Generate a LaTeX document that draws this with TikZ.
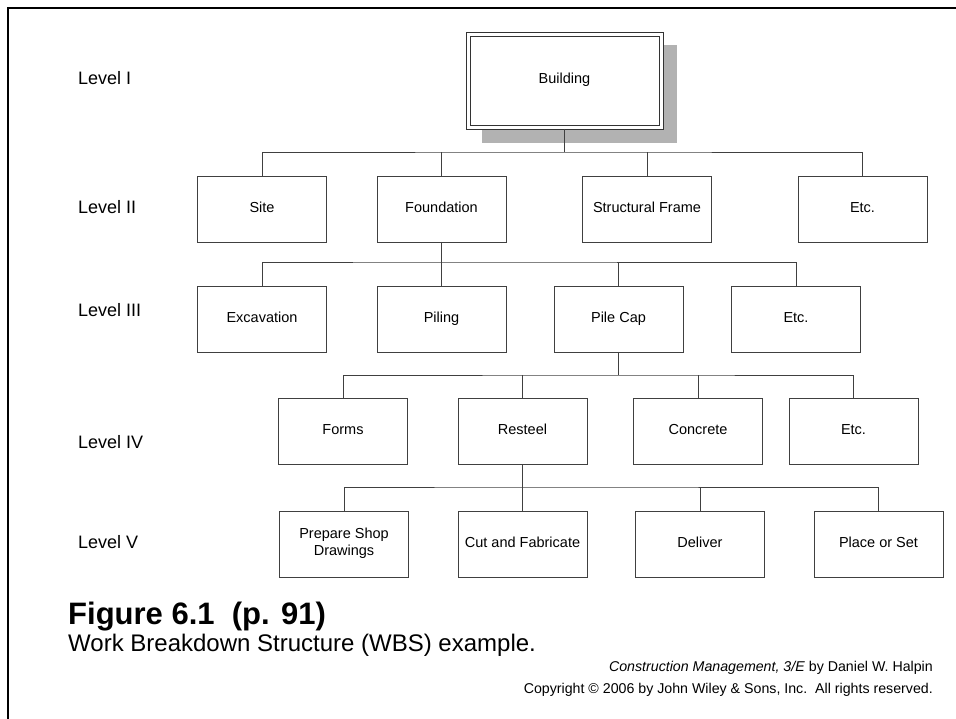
\documentclass[tikz,border=0pt]{standalone}
\usepackage{fontspec}
\setmainfont{Liberation Sans}
\begin{document}
\begin{tikzpicture}[x=1pt,y=-1pt,
  wbs/.style={draw=black!75, line width=0.9pt, fill=white, minimum width=129pt, minimum height=66pt,
    inner sep=0pt, outer sep=0pt, align=center, font=\fontsize{14.5}{17}\selectfont,
    execute at begin node=\strut},
  conn/.style={draw=black!75, line width=0.9pt},
  lvl/.style={anchor=west, inner sep=0pt, font=\fontsize{18}{21}\selectfont}]
\useasboundingbox (0,0) rectangle (956,719);
% frame
\draw[line width=2.6pt] (956,8) -- (8,8) -- (8,719);
% level labels
\node[lvl] (l1) at (78,78) {Level I};
\node[lvl] (l2) at (78,207) {Level II};
\node[lvl] (l3) at (78,310) {Level III};
\node[lvl] (l4) at (78,442) {Level IV};
\node[lvl] (l5) at (78,542) {Level V};
% building
\fill[black!30] (482,45) rectangle (677,143);
\node[draw=black!80, line width=0.9pt, fill=white, minimum width=197pt, minimum height=97pt,
  inner sep=0pt, outer sep=0pt, font=\fontsize{14.5}{17}\selectfont,
  execute at begin node=\strut] (bld) at (564.5,80.5) {Building};
\draw[black!80, line width=0.9pt] ([shift={(4,-4)}]bld.south west) rectangle ([shift={(-4,4)}]bld.north east);
% level II
\node[wbs] (site) at (262,209) {Site};
\node[wbs] (found) at (441.5,209) {Foundation};
\node[wbs] (frame) at (647,209) {Structural Frame};
\node[wbs] (etc2) at (862.5,209) {Etc.};
\coordinate (b2) at (564.5,152);
\draw[conn] (bld.south) -- (b2);
\draw[conn] (site.north) |- (b2) -| (etc2.north);
\draw[conn] (found.north) -- (found.north |- b2);
\draw[conn] (frame.north) -- (frame.north |- b2);
% level III
\node[wbs] (exc) at (262,319) {Excavation};
\node[wbs] (pil) at (441.5,319) {Piling};
\node[wbs] (cap) at (618.5,319) {Pile Cap};
\node[wbs] (etc3) at (796,319) {Etc.};
\coordinate (b3) at (441.5,262);
\draw[conn] (found.south) -- (b3);
\draw[conn] (exc.north) |- (b3) -| (etc3.north);
\draw[conn] (pil.north) -- (b3);
\draw[conn] (cap.north) -- (cap.north |- b3);
% level IV
\node[wbs] (forms) at (343,431) {Forms};
\node[wbs] (rest) at (522.5,431) {Resteel};
\node[wbs] (conc) at (698,431) {Concrete};
\node[wbs] (etc4) at (853.5,431) {Etc.};
\coordinate (b4) at (618.5,375);
\draw[conn] (cap.south) -- (b4);
\draw[conn] (forms.north) |- (b4) -| (etc4.north);
\draw[conn] (rest.north) -- (rest.north |- b4);
\draw[conn] (conc.north) -- (conc.north |- b4);
% level V
\node[wbs] (prep) at (344,544) {Prepare Shop\\Drawings};
\node[wbs] (cut) at (522.5,544) {Cut and Fabricate};
\node[wbs] (del) at (700,544) {Deliver};
\node[wbs] (place) at (878.5,544) {Place or Set};
\coordinate (b5) at (522.5,487);
\draw[conn] (rest.south) -- (b5);
\draw[conn] (prep.north) |- (b5) -| (place.north);
\draw[conn] (cut.north) -- (b5);
\draw[conn] (del.north) -- (del.north |- b5);
% captions
\node[anchor=base west, inner sep=0pt, font=\fontsize{31}{36}\selectfont\bfseries] (fig) at (68,624) {Figure 6.1\ \ (p. 91)};
\node[anchor=base west, inner sep=0pt, font=\fontsize{24}{28}\selectfont] (desc) at (68,651) {Work Breakdown Structure (WBS) example.};
\node[anchor=base east, inner sep=0pt, font=\fontsize{14.2}{17}\selectfont] (book) at (933,671) {\textit{Construction Management, 3/E} by Daniel W. Halpin};
\node[anchor=base east, inner sep=0pt, font=\fontsize{14.2}{17}\selectfont] (copy) at (933,693) {Copyright \textcopyright\ 2006 by John Wiley \& Sons, Inc.\ \ All rights reserved.};
\end{tikzpicture}
\end{document}
